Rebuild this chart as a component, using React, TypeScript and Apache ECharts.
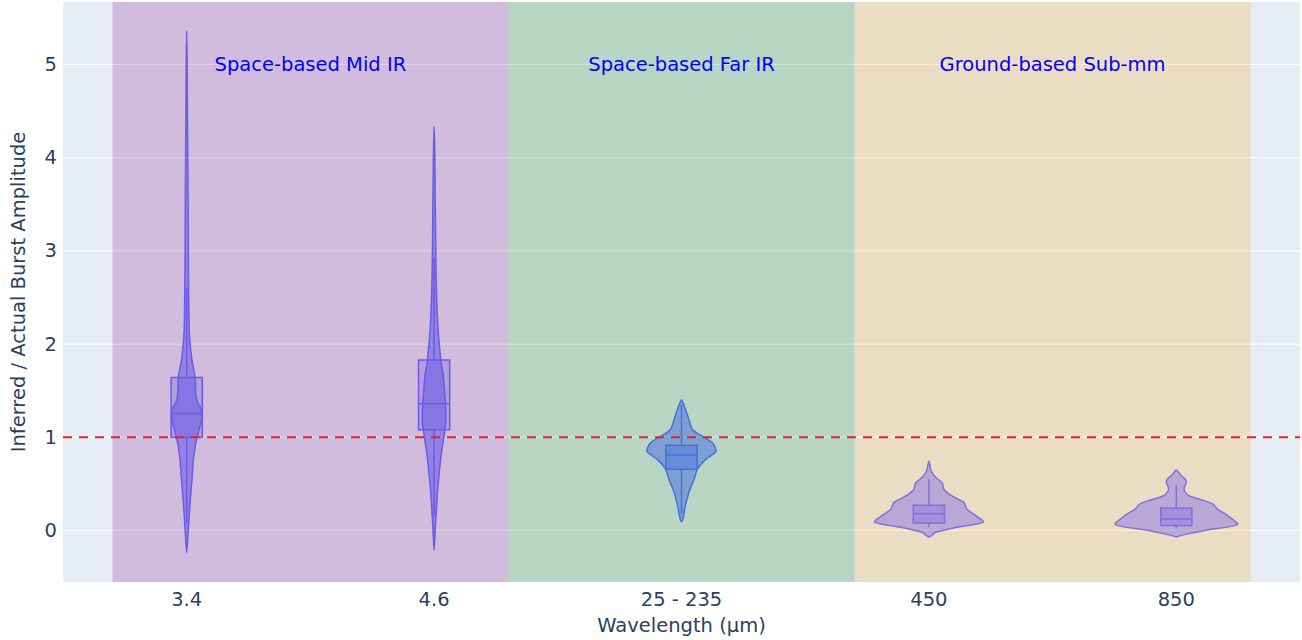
import React, { useEffect, useRef } from 'react';
import * as echarts from 'echarts';

// ---------- data ----------
const categories = ['3.4', '4.6', '25 - 235', '450', '850'];
const bandLabels = ['Space-based Mid IR', 'Space-based Far IR', 'Ground-based Sub-mm'];
const bandStart = [-0.3, 1.3, 2.7];
const bandEnd = [1.3, 2.7, 4.3];
const bandLabelValue = 5.0;
const referenceValue = 1;
const yTicks = [0, 1, 2, 3, 4, 5];

const q1 = [1.0, 1.08, 0.656, 0.08, 0.053];
const median = [1.255, 1.36, 0.81, 0.18, 0.124];
const q3 = [1.64, 1.83, 0.915, 0.27, 0.24];
const whiskerLow = [0.08, 0.15, 0.18, 0.035, 0.024];
const whiskerHigh = [2.6, 2.93, 1.35, 0.55, 0.486];

// violin outlines: [value, half-width in category units]
const profile34 = [
  [-0.24, 0], [-0.05, 0.005], [0.16, 0.010], [0.35, 0.015], [0.54, 0.021], [0.73, 0.026],
  [0.9, 0.034], [1.0, 0.042], [1.09, 0.051], [1.2, 0.061], [1.3, 0.059], [1.37, 0.045],
  [1.44, 0.037], [1.64, 0.034], [1.83, 0.021], [2.06, 0.012], [2.3, 0.009], [2.8, 0.007],
  [3.3, 0.006], [3.8, 0.005], [4.5, 0.003], [5.0, 0.002], [5.36, 0],
];
const profile46 = [
  [-0.21, 0], [0.09, 0.006], [0.45, 0.015], [0.8, 0.028], [0.98, 0.038], [1.15, 0.047],
  [1.3, 0.047], [1.5, 0.042], [1.68, 0.036], [1.81, 0.028], [2.2, 0.015], [2.75, 0.008],
  [3.46, 0.005], [4.0, 0.003], [4.34, 0],
];
const profileFar = [
  [0.096, 0], [0.13, 0.006], [0.27, 0.016], [0.41, 0.030], [0.55, 0.051], [0.66, 0.065],
  [0.76, 0.097], [0.85, 0.140], [0.94, 0.125], [1.01, 0.085], [1.08, 0.045], [1.19, 0.030],
  [1.33, 0.012], [1.40, 0],
];
const profile450 = [
  [-0.07, 0], [-0.02, 0.027], [0.035, 0.113], [0.09, 0.220], [0.16, 0.189], [0.23, 0.153],
  [0.30, 0.142], [0.37, 0.093], [0.44, 0.061], [0.51, 0.054], [0.57, 0.027], [0.64, 0.009],
  [0.745, 0],
];
const profile850 = [
  [-0.07, 0], [-0.05, 0.024], [0.0, 0.113], [0.064, 0.247], [0.17, 0.202], [0.23, 0.166],
  [0.28, 0.150], [0.32, 0.113], [0.37, 0.053], [0.42, 0.034], [0.46, 0.032], [0.51, 0.040],
  [0.55, 0.036], [0.6, 0.016], [0.65, 0],
];
const profiles = [profile34, profile46, profileFar, profile450, profile850];

// ---------- styles ----------
const FONT = 'DejaVu Sans, Verdana, sans-serif';
const FS = 19.5;
const AXIS_COLOR = '#2a3f5f';
const bandColors = ['rgba(128,0,128,0.2)', 'rgba(0,128,0,0.2)', 'rgba(255,165,0,0.2)'];
const violinLine = ['#6B5BE6', '#6B5BE6', '#4A6FD8', '#8171DC', '#8171DC'];
const violinFill = [
  'rgba(107,91,230,0.6)', 'rgba(107,91,230,0.6)', 'rgba(65,105,225,0.5)',
  'rgba(123,104,238,0.45)', 'rgba(123,104,238,0.45)',
];
const boxFill = [
  'rgba(107,91,230,0.3)', 'rgba(107,91,230,0.3)', 'rgba(65,105,225,0.35)',
  'rgba(123,104,238,0.35)', 'rgba(123,104,238,0.35)',
];
const BOX_HALF = 0.063;

export default function App() {
  const ref = useRef<HTMLDivElement>(null);

  useEffect(() => {
    if (!ref.current) return;
    const chart = echarts.init(ref.current, null, { renderer: 'svg' });

    const option: any = {
      animation: false,
      backgroundColor: '#ffffff',
      textStyle: { fontFamily: FONT },
      grid: {
        left: 63, right: 2, top: 2, bottom: 53,
        show: true, backgroundColor: '#E5ECF6', borderWidth: 0,
      },
      xAxis: {
        type: 'category',
        data: categories,
        boundaryGap: true,
        axisLine: { show: false },
        axisTick: { show: false },
        splitLine: { show: false },
        axisLabel: { color: AXIS_COLOR, fontSize: FS, fontFamily: FONT, margin: 7 },
        name: 'Wavelength (µm)',
        nameLocation: 'middle',
        nameGap: 33,
        nameTextStyle: { color: AXIS_COLOR, fontSize: FS, fontFamily: FONT },
      },
      yAxis: {
        type: 'value',
        min: -0.553,
        max: 5.67,
        splitNumber: 6,
        axisLine: { show: false },
        axisTick: { show: false },
        splitLine: { show: false },
        axisLabel: {
          color: AXIS_COLOR, fontSize: FS, fontFamily: FONT, margin: 6,
          showMinLabel: false, showMaxLabel: false,
          formatter: (v: number) => (yTicks.indexOf(v) >= 0 ? String(v) : ''),
        },
        name: 'Inferred / Actual Burst Amplitude',
        nameLocation: 'middle',
        nameRotate: 90,
        nameGap: 35,
        nameTextStyle: { color: AXIS_COLOR, fontSize: FS, fontFamily: FONT },
      },
      series: [
        {
          // gridlines
          type: 'custom',
          z: 1,
          silent: true,
          data: yTicks.map((t) => [0, t]),
          renderItem: (params: any, api: any) => {
            const cs = params.coordSys;
            const y = api.coord([0, yTicks[params.dataIndex]])[1];
            return {
              type: 'line',
              shape: { x1: cs.x, y1: y, x2: cs.x + cs.width, y2: y },
              style: { stroke: '#ffffff', lineWidth: 1.3 },
            };
          },
        },
        {
          // shaded wavelength regimes + labels
          type: 'custom',
          z: 2,
          silent: true,
          clip: true,
          data: bandLabels.map((_, i) => [i, bandLabelValue]),
          renderItem: (params: any, api: any) => {
            const i = params.dataIndex;
            const cs = params.coordSys;
            const bw = api.size([1, 0])[0];
            const c0 = api.coord([0, 0])[0];
            const x1 = c0 + bandStart[i] * bw;
            const x2 = c0 + bandEnd[i] * bw;
            const ty = api.coord([0, bandLabelValue])[1];
            return {
              type: 'group',
              children: [
                {
                  type: 'rect',
                  shape: { x: x1, y: cs.y, width: x2 - x1, height: cs.height },
                  style: { fill: bandColors[i] },
                },
                {
                  type: 'text',
                  x: (x1 + x2) / 2,
                  y: ty,
                  style: {
                    text: bandLabels[i],
                    fill: '#0000FF',
                    fontSize: FS,
                    fontFamily: FONT,
                    align: 'center',
                    verticalAlign: 'middle',
                  },
                },
              ],
            };
          },
        },
        {
          // violins
          type: 'custom',
          z: 3,
          silent: true,
          data: categories.map((_, i) => [i, median[i]]),
          renderItem: (params: any, api: any) => {
            const i = params.dataIndex;
            const prof = profiles[i];
            const bw = api.size([1, 0])[0];
            const cx = api.coord([i, 0])[0];
            const yOf = (v: number) => api.coord([i, v])[1];
            const pts: number[][] = [];
            for (let k = 0; k < prof.length; k++) pts.push([cx + prof[k][1] * bw, yOf(prof[k][0])]);
            for (let k = prof.length - 2; k >= 1; k--) pts.push([cx - prof[k][1] * bw, yOf(prof[k][0])]);
            const bh = BOX_HALF * bw;
            const yq1 = yOf(q1[i]);
            const yq3 = yOf(q3[i]);
            const ym = yOf(median[i]);
            return {
              type: 'group',
              children: [
                {
                  type: 'polygon',
                  shape: { points: pts, smooth: 0.25 },
                  style: { fill: violinFill[i], stroke: violinLine[i], lineWidth: 1.5 },
                },
                {
                  type: 'line',
                  shape: { x1: cx, y1: yOf(whiskerLow[i]), x2: cx, y2: yq1 },
                  style: { stroke: violinLine[i], lineWidth: 1.5 },
                },
                {
                  type: 'line',
                  shape: { x1: cx, y1: yq3, x2: cx, y2: yOf(whiskerHigh[i]) },
                  style: { stroke: violinLine[i], lineWidth: 1.5 },
                },
                {
                  type: 'rect',
                  shape: { x: cx - bh, y: yq3, width: 2 * bh, height: yq1 - yq3 },
                  style: { fill: boxFill[i], stroke: violinLine[i], lineWidth: 1.5 },
                },
                {
                  type: 'line',
                  shape: { x1: cx - bh, y1: ym, x2: cx + bh, y2: ym },
                  style: { stroke: violinLine[i], lineWidth: 1.5 },
                },
              ],
            };
          },
        },
        {
          // reference line
          type: 'custom',
          z: 4,
          silent: true,
          data: [[0, referenceValue]],
          renderItem: (params: any, api: any) => {
            const cs = params.coordSys;
            const y = api.coord([0, referenceValue])[1];
            return {
              type: 'line',
              shape: { x1: cs.x, y1: y, x2: cs.x + cs.width, y2: y },
              style: { stroke: '#E8202A', lineWidth: 2, lineDash: [9, 7] },
            };
          },
        },
      ],
    };

    chart.setOption(option);
    return () => chart.dispose();
  }, []);

  return (
    <div
      ref={ref}
      style={{ position: 'fixed', left: 0, top: 0, width: 1302, height: 640, background: '#fff' }}
    />
  );
}
